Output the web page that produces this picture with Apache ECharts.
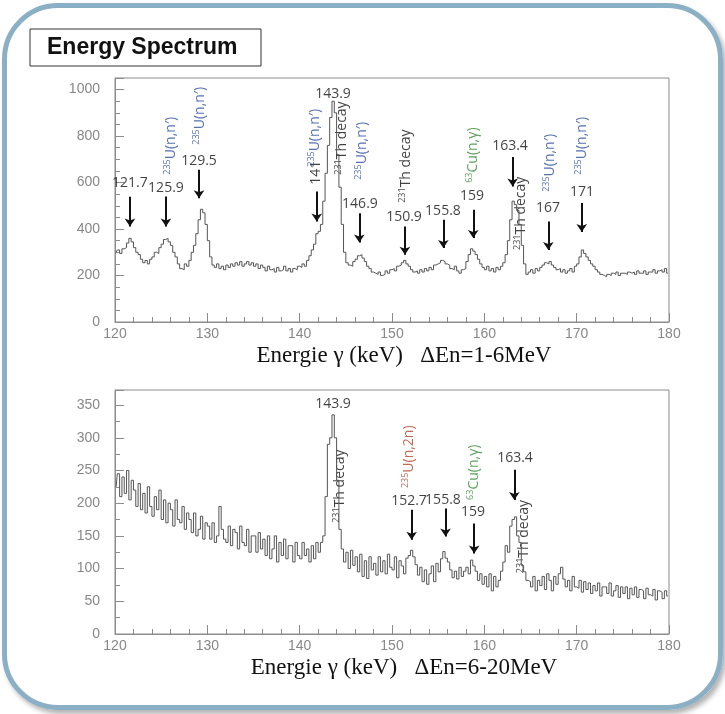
<!DOCTYPE HTML>
<html lang="en">
  <head>
    <meta charset="utf-8" />
    <script src="https://cdn.jsdelivr.net/npm/echarts@6.0.0/dist/echarts.min.js"></script>
    <style>
      html, body {
        margin: 0;
        padding: 0;
        background: #fff;
      }
      #frame {
        position: absolute;
        left: 2px;
        top: 3px;
        width: 711px;
        height: 697px;
        border: 5px solid #8bafc4;
        border-radius: 56px;
        box-shadow: 3px 4px 5px rgba(0, 0, 0, 0.3);
      }
      #chart {
        position: absolute;
        left: 0;
        top: 0;
        width: 725px;
        height: 714px;
      }
    </style>
  </head>
  <body>
    <div id="frame"></div>
    <div id="chart"></div>
    <script>
      // histogram bins: 0.25 keV wide, starting at 120 keV
      var keV0 = 120;
      var binW = 0.25;

      // counts, dEn = 1-6 MeV (4 bins per keV)
      var counts1 = [
        300, 310, 295, 315,  320, 340, 360, 345,  320, 300, 290, 270,  255, 265, 250, 270,
        280, 300, 295, 320,  335, 355, 360, 345,  330, 300, 280, 250,  230, 225, 250, 240,
        265, 300, 330, 380,  440, 485, 470, 420,  350, 280, 245, 235,  250, 230, 240, 225,
        245, 235, 250, 240,  255, 245, 260, 240,  250, 260, 245, 255,  240, 250, 230, 245,
        235, 220, 240, 225,  230, 215, 235, 220,  225, 240, 220, 230,  215, 230, 225, 240,
        235, 250, 240, 265,  285, 310, 335, 380,  390, 420, 520, 640,  760, 880, 950, 900,
        720, 580, 420, 300,  255, 245, 240, 260,  270, 285, 290, 275,  260, 240, 230, 215,
        210, 205, 215, 200,  205, 220, 210, 225,  230, 220, 240, 245,  255, 265, 250, 240,
        225, 215, 220, 210,  225, 215, 230, 220,  235, 225, 245, 250,  255, 265, 260, 250,
        245, 230, 225, 240,  220, 210, 225, 230,  260, 290, 315, 305,  290, 270, 250, 235,
        225, 240, 220, 230,  215, 235, 225, 240,  255, 290, 350, 440,  520, 505, 480, 420,
        330, 250, 205, 215,  225, 210, 230, 220,  235, 245, 255, 250,  260, 245, 235, 225,
        230, 215, 225, 210,  220, 230, 215, 240,  250, 280, 310, 295,  280, 265, 250, 240,
        225, 215, 205, 200,  195, 205, 200, 210,  205, 215, 200, 210,  210, 205, 215, 210,
        215, 205, 220, 210,  210, 220, 205, 215,  215, 225, 210, 220,  225, 215, 230, 210
      ];

      // counts, dEn = 6-20 MeV
      var counts2 = [
        225, 245, 210, 240,  215, 250, 205, 235,  220, 195, 230, 190,  215, 185, 225, 195,
        180, 210, 190, 220,  175, 205, 170, 200,  190, 165, 205, 175,  170, 195, 160, 185,
        175, 155, 185, 150,  160, 180, 145, 170,  165, 145, 170, 140,  150, 195, 160, 145,
        140, 165, 135, 160,  155, 130, 165, 140,  135, 160, 125, 150,  150, 125, 155, 130,
        145, 120, 150, 115,  130, 150, 110, 140,  120, 145, 115, 135,  135, 110, 140, 120,
        115, 140, 120, 130,  110, 135, 115, 140,  125, 140, 150, 210,  290, 300, 335, 300,
        235, 160, 130, 110,  125, 100, 128, 105,  118, 95, 122, 88,  112, 85, 118, 98,
        108, 90, 118, 95,  112, 92, 122, 102,  98, 118, 86, 112,  104, 92, 116, 120,
        128, 118, 106, 90,  102, 80, 98, 76,  92, 104, 80, 108,  95, 115, 126, 116,
        110, 98, 86, 96,  84, 102, 88, 96,  102, 92, 113, 104,  96, 82, 92, 76,
        88, 72, 92, 66,  88, 72, 82, 96,  110, 135, 125, 165,  175, 179, 150, 140,
        105, 95, 82, 80,  72, 88, 66, 82,  74, 88, 68, 92,  82, 66, 88, 76,
        92, 102, 84, 72,  82, 66, 88, 72,  70, 82, 64, 80,  68, 78, 62, 74,
        66, 78, 58, 72,  72, 62, 78, 58,  66, 74, 56, 72,  62, 72, 54, 70,
        60, 72, 56, 68,  66, 54, 70, 60,  58, 68, 52, 66,  64, 54, 66, 58
      ];

      var axisTitles = ['Energie \u03b3 (keV)   \u0394En=1-6MeV', 'Energie \u03b3 (keV)   \u0394En=6-20MeV'];
      var yMax = [1050, 373];
      var yStep = [200, 50];

      // peak energies written above the arrows: [text, keV, counts]
      var peakText1 = [
        ['121.7', 121.62, 599], ['125.9', 125.52, 578], ['129.5', 129.10, 694],
        ['143.9', 143.61, 983], ['146.9', 146.53, 509], ['150.9', 151.30, 453],
        ['155.8', 155.52, 478], ['159', 158.66, 543], ['163.4', 162.78, 759],
        ['167', 166.90, 491], ['171', 170.58, 560]
      ];
      var peakText2 = [
        ['143.9', 143.61, 352], ['152.7', 151.84, 203], ['155.8', 155.52, 205],
        ['159', 158.77, 187], ['163.4', 163.32, 269]
      ];

      // vertical tags: [kind, keV, counts at the start of the text]
      var tags1 = [
        ['u', 126.06, 634], ['u', 129.21, 763], ['n141', 141.77, 591], ['u', 141.66, 668],
        ['th', 144.58, 634], ['u', 146.75, 612], ['th', 151.52, 513], ['cu', 158.77, 599],
        ['th', 163.97, 310], ['u', 167.11, 560], ['u', 170.58, 634]
      ];
      var tags2 = [
        ['th', 144.37, 170], ['u2n', 151.84, 223], ['cu', 158.88, 205], ['th', 164.30, 93]
      ];

      // arrows: [keV, top counts, bottom counts]
      var arrows1 = [
        [121.62, 539, 411], [125.52, 540, 411], [129.10, 655, 533], [141.85, 562, 432],
        [146.46, 468, 342], [151.40, 411, 289], [155.56, 440, 318], [158.80, 483, 361],
        [163.07, 710, 583], [166.93, 432, 310], [170.55, 512, 387]
      ];
      var arrows2 = [
        [152.13, 190, 144], [155.80, 192, 149], [158.90, 169, 123], [163.25, 251, 205]
      ];

      var tagText = {
        u: '{bs|235}{b|U(n,n\u2032)}',
        u2n: '{rs|235}{r|U(n,2n)}',
        cu: '{gs|63}{g|Cu(n,\u03b3)}',
        th: '{ks|231}{k|Th decay}',
        n141: '{k|141}'
      };

      var labelFont = 'Open Sans';
      function sup(color) {
        return {color: color, fontSize: 9, fontFamily: labelFont, verticalAlign: 'top', lineHeight: 17};
      }
      function norm(color) {
        return {color: color, fontSize: 14, fontFamily: labelFont, lineHeight: 17};
      }
      var rich = {
        b: norm('#2b4d9c'), bs: sup('#2b4d9c'),
        r: norm('#b0442a'), rs: sup('#b0442a'),
        g: norm('#3a8a3a'), gs: sup('#3a8a3a'),
        k: norm('#111'), ks: sup('#111')
      };

      function histData(arr) {
        return arr.map(function (v, i) { return [keV0 + binW * (i + 0.5), v]; });
      }

      function seriesFor(idx, counts, peaks, tags, arrows) {
        return [{
          type: 'line',
          xAxisIndex: idx,
          yAxisIndex: idx,
          step: 'middle',
          showSymbol: false,
          lineStyle: {color: '#555', width: 1},
          data: histData(counts)
        }, {
          type: 'scatter',
          xAxisIndex: idx,
          yAxisIndex: idx,
          symbolSize: 1,
          itemStyle: {color: 'rgba(0,0,0,0)'},
          label: {
            show: true,
            position: 'inside',
            align: 'center',
            verticalAlign: 'middle',
            fontFamily: labelFont,
            fontSize: 14,
            color: '#111',
            formatter: function (p) { return p.data.name; }
          },
          data: peaks.map(function (p) { return {name: p[0], value: [p[1], p[2]]}; }),
          markLine: {
            silent: true,
            symbol: ['none', 'arrow'],
            symbolSize: 8,
            label: {show: false},
            lineStyle: {color: '#111', width: 2, type: 'solid'},
            data: arrows.map(function (a) {
              return [{coord: [a[0], a[1]]}, {coord: [a[0], a[2]]}];
            })
          }
        }, {
          type: 'scatter',
          xAxisIndex: idx,
          yAxisIndex: idx,
          symbolSize: 1,
          itemStyle: {color: 'rgba(0,0,0,0)'},
          label: {
            show: true,
            position: 'inside',
            rotate: 90,
            align: 'left',
            verticalAlign: 'middle',
            rich: rich,
            formatter: function (p) { return tagText[p.data.name]; }
          },
          data: tags.map(function (t) { return {name: t[0], value: [t[1], t[2]]}; })
        }];
      }

      var axisGrey = '#8c8c8c';
      var chart = echarts.init(document.getElementById('chart'));
      var option = {
        animation: false,
        graphic: [{
          type: 'rect',
          shape: {x: 30, y: 29, width: 231, height: 37},
          style: {fill: '#fff', stroke: '#333', lineWidth: 1}
        }, {
          type: 'text',
          x: 47,
          y: 48,
          style: {
            text: 'Energy Spectrum',
            fill: '#111',
            font: 'bold 23px "Liberation Sans", Arial, sans-serif',
            verticalAlign: 'middle'
          }
        }],
        grid: [
          {left: 115, top: 78, width: 554, height: 244, show: true, borderColor: axisGrey, borderWidth: 1},
          {left: 115, top: 390, width: 554, height: 244, show: true, borderColor: axisGrey, borderWidth: 1}
        ],
        xAxis: [0, 1].map(function (i) {
          return {
            gridIndex: i,
            type: 'value',
            min: 120,
            max: 180,
            interval: 10,
            axisLine: {lineStyle: {color: axisGrey}},
            axisTick: {inside: true, length: 9, lineStyle: {color: axisGrey}},
            minorTick: {show: true, splitNumber: 5, length: 5, lineStyle: {color: axisGrey}},
            splitLine: {show: false},
            axisLabel: {color: '#888', fontSize: 14, margin: 5, fontFamily: 'Liberation Sans'},
            name: axisTitles[i],
            nameLocation: 'middle',
            nameGap: 22,
            nameTextStyle: {fontFamily: 'Liberation Serif', fontSize: 23, color: '#111', padding: [0, 0, 0, 24]}
          };
        }),
        yAxis: [0, 1].map(function (i) {
          return {
            gridIndex: i,
            type: 'value',
            min: 0,
            max: yMax[i],
            interval: yStep[i],
            axisLine: {show: true, lineStyle: {color: axisGrey}},
            axisTick: {show: true, inside: true, length: 9, lineStyle: {color: axisGrey}},
            minorTick: {show: true, splitNumber: i === 0 ? 4 : 2, length: 5, lineStyle: {color: axisGrey}},
            splitLine: {show: false},
            axisLabel: {
              color: '#888', fontSize: 14, margin: 15, fontFamily: 'Liberation Sans', showMaxLabel: false,
              formatter: function (v) { return String(v); }
            }
          };
        }),
        series: seriesFor(0, counts1, peakText1, tags1, arrows1)
          .concat(seriesFor(1, counts2, peakText2, tags2, arrows2))
      };
      chart.setOption(option);
    </script>
  </body>
</html>
